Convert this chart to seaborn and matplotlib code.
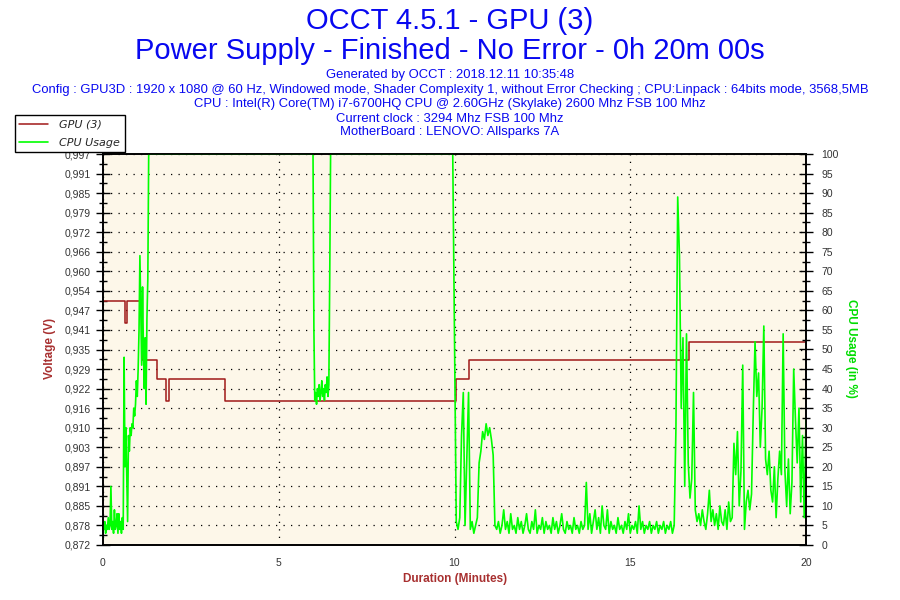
import numpy as np
import matplotlib
matplotlib.use('Agg')
import matplotlib.pyplot as plt
from matplotlib.ticker import MultipleLocator, FixedLocator, AutoMinorLocator
import seaborn as sns

# GPU (3) voltage: step changes (minutes -> volts)
volt_time = [0.0, 0.63, 0.69, 1.10, 1.53, 1.78, 1.87, 3.47, 10.03, 10.41, 16.68, 20.0]
volt_value = [0.950, 0.943, 0.950, 0.931, 0.925, 0.918, 0.925, 0.918, 0.925, 0.931, 0.937, 0.937]

volt_ticks = ['0,872', '0,878', '0,885', '0,891', '0,897', '0,903', '0,910',
              '0,916', '0,922', '0,929', '0,935', '0,941', '0,947', '0,954',
              '0,960', '0,966', '0,972', '0,979', '0,985', '0,991', '0,997']

# CPU usage (%) - stretch a: 0.00 -> 1.30 min, every 0.025 min
cpu_a_start, cpu_a_step = 0.0, 0.025
cpu_a = [5, 4, 6, 3, 5, 4, 7, 4, 5, 15,
         4, 6, 3, 9, 4, 5, 8, 3, 8, 4,
         6, 3, 7, 4, 48, 20, 30, 18, 6, 28,
         24, 30, 28, 31, 30, 35, 33, 36, 42, 38,
         45, 55, 74, 60, 46, 66, 50, 40, 53, 36,
         58, 68, 100]

# stretch b: 5.975 -> 6.50 min, every 0.025 min
cpu_b_start, cpu_b_step = 5.975, 0.025
cpu_b = [100, 55, 37, 39, 36, 40, 38, 41, 37, 39,
         42, 38, 40, 37, 41, 39, 43, 38, 41, 68,
         100, 100]

# stretch c: 9.95 -> 20.00 min, every 0.05 min
cpu_c_start, cpu_c_step = 9.95, 0.05
cpu_c = [100, 53, 6, 4, 7, 28, 39, 5, 22, 39,     # 9.95
         4, 6, 3, 5, 7, 21, 24, 29, 27, 31,       # 10.45
         28, 30, 27, 23, 5, 4, 6, 3, 5, 9,        # 10.95
         4, 6, 3, 8, 4, 5, 3, 7, 4, 6,            # 11.45
         3, 5, 8, 4, 3, 6, 4, 9, 3, 5,            # 11.95
         4, 7, 3, 6, 4, 5, 3, 7, 4, 6,            # 12.45
         3, 5, 8, 4, 3, 6, 4, 5, 3, 7,            # 12.95
         4, 5, 3, 6, 4, 5, 16, 4, 8, 3,           # 13.45
         6, 9, 4, 7, 3, 10, 5, 4, 9, 3,           # 13.95
         6, 4, 5, 3, 7, 4, 5, 3, 6, 4,            # 14.45
         8, 3, 5, 4, 6, 3, 10, 4, 6, 3,           # 14.95
         5, 4, 6, 3, 5, 4, 6, 3, 5, 4,            # 15.45
         6, 3, 5, 4, 6, 3, 5, 30, 89, 74,         # 15.95
         35, 53, 15, 54, 21, 12, 17, 39, 9, 6,    # 16.45
         8, 5, 9, 6, 4, 8, 14, 6, 9, 5,           # 16.95
         8, 4, 10, 6, 5, 9, 4, 11, 6, 7,          # 17.45
         26, 18, 29, 10, 19, 46, 4, 11, 14, 9,    # 17.95
         13, 34, 52, 38, 44, 25, 35, 56, 22, 18,  # 18.45
         24, 14, 11, 20, 7, 17, 24, 18, 54, 19,   # 18.95
         10, 22, 8, 16, 45, 32, 21, 35, 11, 28,   # 19.45
         7, 32]                                   # 19.95

title_lines = ['OCCT 4.5.1 - GPU (3)',
               'Power Supply - Finished - No Error - 0h 20m 00s']
info_lines = ['Generated by OCCT : 2018.12.11 10:35:48',
              'Config : GPU3D : 1920 x 1080 @ 60 Hz, Windowed mode, Shader Complexity 1, '
              'without Error Checking ; CPU:Linpack : 64bits mode, 3568,5MB',
              'CPU : Intel(R) Core(TM) i7-6700HQ CPU @ 2.60GHz (Skylake) 2600 Mhz FSB 100 Mhz',
              'Current clock : 3294 Mhz FSB 100 Mhz',
              'MotherBoard : LENOVO: Allsparks 7A']

cpu_time = np.concatenate([
    cpu_a_start + cpu_a_step * np.arange(len(cpu_a)),
    cpu_b_start + cpu_b_step * np.arange(len(cpu_b)),
    cpu_c_start + cpu_c_step * np.arange(len(cpu_c)),
])
cpu_value = np.concatenate([cpu_a, cpu_b, cpu_c])

sns.set_style('white')
plt.rcParams['font.family'] = ['Liberation Sans', 'DejaVu Sans']

RED = '#a01818'
GREEN = '#00ff00'
BLUE = '#0808f0'
DOTS = (0, (1, 5))

fig = plt.figure(figsize=(9, 6), dpi=100)
ax = fig.add_axes([103 / 900, 1 - 545 / 600, 703 / 900, 391 / 600])
ax.set_facecolor('#fdf7e9')
ax2 = ax.twinx()

sns.lineplot(x=volt_time, y=volt_value, ax=ax, color=RED, linewidth=1.1,
             drawstyle='steps-post', estimator=None, errorbar=None, legend=False)
sns.lineplot(x=cpu_time, y=cpu_value, ax=ax2, color=GREEN, linewidth=1.2,
             estimator=None, errorbar=None, sort=False, legend=False)

ax.set_xlim(0, 20)
ax.set_ylim(0.872, 0.997)
ax2.set_ylim(0, 100)

ax.xaxis.set_major_locator(MultipleLocator(5))
ax.xaxis.set_minor_locator(MultipleLocator(1))
ax.yaxis.set_major_locator(FixedLocator(np.linspace(0.872, 0.997, len(volt_ticks))))
ax.set_yticklabels(volt_ticks)
ax.yaxis.set_minor_locator(AutoMinorLocator(2))
ax2.yaxis.set_major_locator(MultipleLocator(5))
ax2.yaxis.set_minor_locator(MultipleLocator(2.5))

ax.grid(True, which='major', color='black', linestyle=DOTS, linewidth=0.9)
ax.set_axisbelow(True)

for a in (ax, ax2):
    a.tick_params(which='major', direction='inout', length=10, width=1,
                  labelsize=7.5, labelcolor='#333333', color='black')
    a.tick_params(which='minor', direction='inout', length=6, width=1, color='black')
    for s in a.spines.values():
        s.set_color('black')
        s.set_linewidth(1.2)
ax.tick_params(axis='y', pad=4)
ax.tick_params(axis='x', pad=4)
ax2.tick_params(axis='y', pad=6)

ax.set_xlabel('')
ax.set_ylabel('')
ax2.set_ylabel('')

fig.text(0.5, 1 - 21 / 600, title_lines[0], ha='center', va='center',
         fontsize=21, color=BLUE)
fig.text(0.5, 1 - 51 / 600, title_lines[1], ha='center', va='center',
         fontsize=21, color=BLUE)
for line, yp in zip(info_lines, [75, 89.5, 104.5, 118.5, 132]):
    fig.text(0.5, 1 - yp / 600, line, ha='center', va='center',
             fontsize=9.4, color=BLUE)

fig.text(50 / 900, 1 - 348 / 600, 'Voltage (V)', rotation=90, ha='center',
         va='center', fontsize=8.5, fontweight='bold', color='#a83030')
fig.text(851 / 900, 1 - 348 / 600, 'CPU Usage (in %)', rotation=270, ha='center',
         va='center', fontsize=8.5, fontweight='bold', color='#00dd00')
fig.text(455 / 900, 1 - 579 / 600, 'Duration (Minutes)', ha='center',
         va='center', fontsize=8.5, fontweight='bold', color='#a83030')

leg = fig.legend(handles=[ax.get_lines()[0], ax2.get_lines()[0]],
                 labels=['GPU (3)', 'CPU Usage'], loc='upper left',
                 bbox_to_anchor=(15 / 900, 1 - 115 / 600), borderaxespad=0,
                 frameon=True, fancybox=False, framealpha=1, edgecolor='black',
                 prop={'family': 'DejaVu Sans', 'style': 'italic', 'size': 8},
                 handlelength=2.6, borderpad=0.4, labelspacing=0.75,
                 handletextpad=1.0)
leg.get_frame().set_linewidth(1)

fig.savefig('out.png', dpi=100)
